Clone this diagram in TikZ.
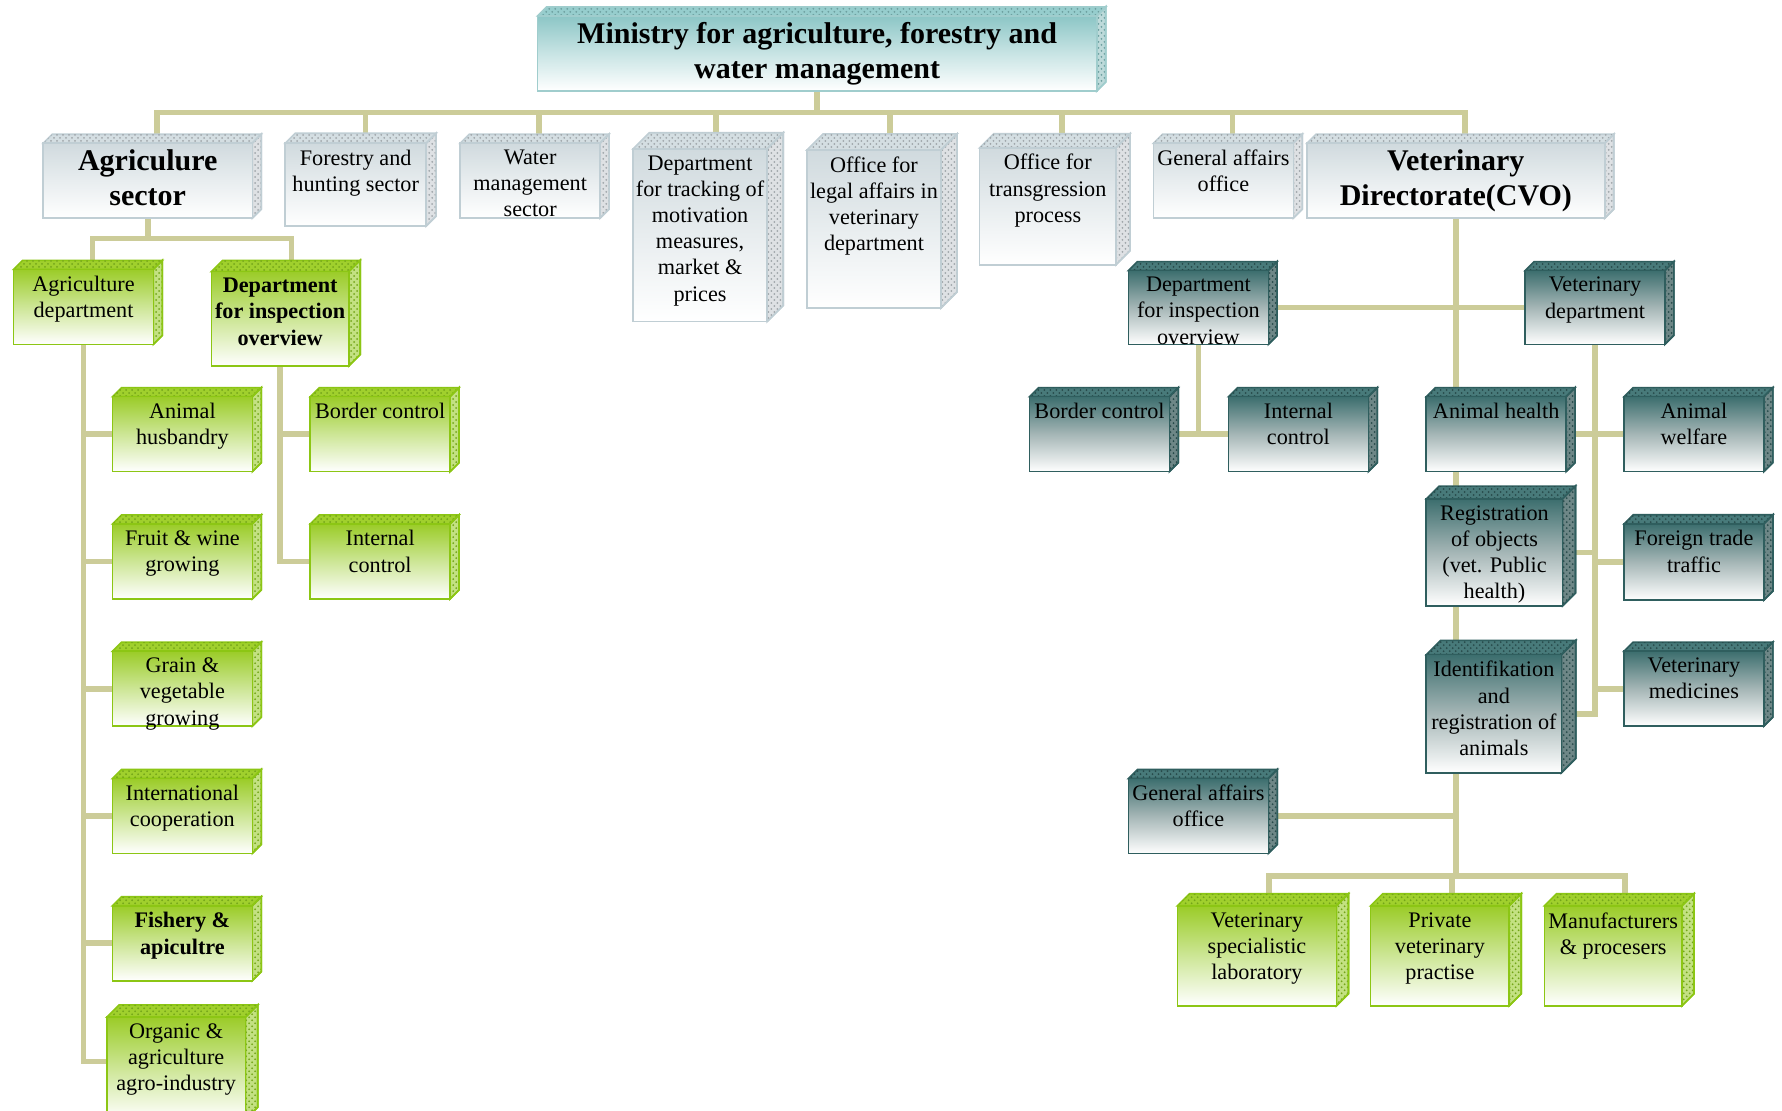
\documentclass[tikz,border=0pt]{standalone}
\usepackage{fontspec}
\setmainfont{Liberation Serif}
\usetikzlibrary{fit,backgrounds,patterns}
\definecolor{conncol}{RGB}{204,204,153}
% green
\definecolor{gtp}{RGB}{155,204,40}
\definecolor{gmd}{RGB}{205,230,150}
\definecolor{gln}{RGB}{140,198,20}
\definecolor{gtf}{RGB}{160,208,45}
\definecolor{gsd}{RGB}{195,225,130}
\definecolor{gpat}{RGB}{115,165,25}
% teal
\definecolor{ttp}{RGB}{60,110,110}
\definecolor{tmd}{RGB}{165,182,182}
\definecolor{tln}{RGB}{47,94,94}
\definecolor{ttf}{RGB}{72,122,122}
\definecolor{tsd}{RGB}{110,135,135}
\definecolor{tpat}{RGB}{40,75,75}
% grey
\definecolor{stp}{RGB}{208,218,222}
\definecolor{smd}{RGB}{232,237,239}
\definecolor{sln}{RGB}{192,206,212}
\definecolor{stf}{RGB}{212,222,226}
\definecolor{ssd}{RGB}{222,225,228}
\definecolor{spat}{RGB}{160,166,170}
% ministry
\definecolor{mtp}{RGB}{140,198,198}
\definecolor{mmd}{RGB}{200,228,228}
\definecolor{mln}{RGB}{160,205,205}
\definecolor{mtf}{RGB}{150,205,205}
\definecolor{msd}{RGB}{190,218,218}
\definecolor{mpat}{RGB}{110,160,160}
\newcommand\fnorm{\fontsize{11.1}{13.1}\selectfont}
\newcommand\fbold{\fontsize{11.1}{13.1}\selectfont\bfseries}
\newcommand\fbig{\fontsize{15}{17.6}\selectfont\bfseries}
\tikzset{
  conn/.style={draw=conncol, line width=2.8pt, line join=miter},
  gface/.style={fill=gtf, draw=gln, line width=0.8pt},
  gside/.style={fill=gsd, draw=gln, line width=0.8pt},
  gfront/.style={draw=gln, line width=0.8pt, top color=gtp, bottom color=white, middle color=gmd},
  tface/.style={fill=ttf, draw=tln, line width=0.8pt},
  tside/.style={fill=tsd, draw=tln, line width=0.8pt},
  tfront/.style={draw=tln, line width=0.8pt, top color=ttp, bottom color=white, middle color=tmd},
  sface/.style={fill=stf, draw=sln, line width=0.8pt},
  sside/.style={fill=ssd, draw=sln, line width=0.8pt},
  sfront/.style={draw=sln, line width=0.8pt, top color=stp, bottom color=white, middle color=smd},
  mface/.style={fill=mtf, draw=mln, line width=0.8pt},
  mside/.style={fill=msd, draw=mln, line width=0.8pt},
  mfront/.style={draw=mln, line width=0.8pt, top color=mtp, bottom color=white, middle color=mmd},
  boxtext/.style={anchor=north, align=center, inner sep=0pt, text=black},
}
% #1 name, #2 colour prefix, #3 x1, #4 y1, #5 x2, #6 y2, #7 font, #8 text
\newcommand\obox[8]{%
  \pgfmathsetmacro\obd{0.12*min(#5-#3,#6-#4)}%
  \path[#2face] (#3,#4) -- ++(\obd,-\obd) -- (#5+\obd,#4-\obd) -- (#5,#4) -- cycle;
  \fill[pattern=crosshatch dots, pattern color=#2pat] (#3,#4) -- ++(\obd,-\obd) -- (#5+\obd,#4-\obd) -- (#5,#4) -- cycle;
  \path[#2side] (#5,#4) -- ++(\obd,-\obd) -- (#5+\obd,#6-\obd) -- (#5,#6) -- cycle;
  \fill[pattern=crosshatch dots, pattern color=#2pat] (#5,#4) -- ++(\obd,-\obd) -- (#5+\obd,#6-\obd) -- (#5,#6) -- cycle;
  \draw[draw=#2ln, line width=0.8pt] (#5,#4) -- ++(\obd,-\obd) -- (#5+\obd,#6-\obd) -- (#5,#6);
  \node[fit={(#3,#4) (#5,#6)}, inner sep=0pt, #2front] (#1) {};
  \node[boxtext, font=#7] (#1-t) at ([yshift=-3.5pt]#1.north) {#8};
  \coordinate (#1-top) at ({(#3+#5)/2+\obd},{#4-\obd});
}
\begin{document}
\begin{tikzpicture}[x=0.568pt, y=-0.568pt]
\useasboundingbox (0,0) rectangle (1568,977);

% ministry
\obox{min}{m}{473}{14}{965}{80}{\fbig}{Ministry for agriculture, forestry and\\water management}

% top row
\obox{asec}{s}{38}{126}{222}{192}{\fbig}{Agriculure\\sector}
\obox{fhs}{s}{251}{126}{375}{199}{\fnorm}{Forestry and\\hunting sector}
\obox{wms}{s}{405}{126}{528}{192}{\fnorm}{Water\\management\\sector}
\obox{dtm}{s}{557}{131}{675}{283}{\fnorm}{Department\\for tracking of\\motivation\\measures,\\market \&\\prices}
\obox{ola}{s}{710}{132}{828}{271}{\fnorm}{Office for\\legal affairs in\\veterinary\\department}
\obox{otp}{s}{862}{130}{982}{233}{\fnorm}{Office for\\transgression\\process}
\obox{gao}{s}{1015}{126}{1138}{192}{\fnorm}{General affairs\\office}
\obox{vet}{s}{1150}{126}{1412}{192}{\fbig}{Veterinary\\Directorate(CVO)}

% left branch
\obox{agd}{g}{12}{237}{135}{303}{\fnorm}{Agriculture\\department}
\obox{dio}{g}{186}{239}{307}{322}{\fbold}{Department\\for inspection\\overview}
\obox{ah}{g}{99}{349}{222}{415}{\fnorm}{Animal\\husbandry}
\obox{fwg}{g}{99}{461}{222}{527}{\fnorm}{Fruit \& wine\\growing}
\obox{gvg}{g}{99}{573}{222}{639}{\fnorm}{Grain \&\\vegetable\\growing}
\obox{ic}{g}{99}{685}{222}{751}{\fnorm}{International\\cooperation}
\obox{fa}{g}{99}{797}{222}{863}{\fbold}{Fishery \&\\apicultre}
\obox{org}{g}{94}{895}{216}{985}{\fnorm}{Organic \&\\agriculture\\agro-industry}
\obox{bc1}{g}{273}{349}{396}{415}{\fnorm}{Border control}
\obox{ic1}{g}{273}{461}{396}{527}{\fnorm}{Internal\\control}

% right branch
\obox{dio2}{t}{993}{238}{1116}{303}{\fnorm}{Department\\for inspection\\overview}
\obox{vdep}{t}{1342}{238}{1465}{303}{\fnorm}{Veterinary\\department}
\obox{bc2}{t}{906}{349}{1029}{415}{\fnorm}{Border control}
\obox{ic2}{t}{1081}{349}{1204}{415}{\fnorm}{Internal\\control}
\obox{ah2}{t}{1255}{349}{1378}{415}{\fnorm}{Animal health}
\obox{aw}{t}{1429}{349}{1552}{415}{\fnorm}{Animal\\welfare}
\obox{reg}{t}{1255}{439}{1375}{533}{\fnorm}{Registration\\of objects\\(vet. Public\\health)}
\obox{ftt}{t}{1429}{461}{1552}{528}{\fnorm}{Foreign trade\\traffic}
\obox{idr}{t}{1255}{576}{1374}{680}{\fnorm}{Identifikation\\and\\registration of\\animals}
\obox{vm}{t}{1429}{573}{1552}{639}{\fnorm}{Veterinary\\medicines}
\obox{gao2}{t}{993}{685}{1116}{751}{\fnorm}{General affairs\\office}
\obox{vsl}{g}{1036}{797}{1176}{885}{\fnorm}{Veterinary\\specialistic\\laboratory}
\obox{pvp}{g}{1206}{797}{1328}{885}{\fnorm}{Private\\veterinary\\practise}
\obox{mp}{g}{1359}{797}{1480}{885}{\fnorm}{Manufacturers\\\& procesers}

\begin{scope}[on background layer]
  \fill[white] (0,0) rectangle (1568,977);
  \coordinate (j0) at (719,99);
  \draw[conn] (min) -- (j0);
  \foreach \n in {asec,fhs,wms,dtm,ola,otp,gao,vet} \draw[conn] (\n-top) |- (j0);
  \coordinate (j1) at (130,210);
  \draw[conn] (asec) -- (j1);
  \draw[conn] (agd-top) |- (j1);
  \draw[conn] (dio-top) |- (j1);
  \foreach \n in {ah,fwg,gvg,ic,fa} \draw[conn] (agd) |- (\n);
  \draw[conn] (agd) |- ([yshift=3.5pt]org.west);
  \draw[conn] (dio) |- (bc1);
  \draw[conn] (dio) |- (ic1);
  \coordinate (j5) at (1281,771);
  \draw[conn] (vet) -- (j5);
  \draw[conn] (dio2) -- (vdep);
  \draw[conn] (dio2) |- (bc2);
  \draw[conn] (dio2) |- (ic2);
  \draw[conn] (ah2) -- (aw);
  \draw[conn] (vdep) |- (ftt);
  \draw[conn] (vdep) |- (vm);
  \draw[conn] (reg) -| (vdep);
  \draw[conn] (idr) -| (vdep);
  \draw[conn] (gao2) -| (vet);
  \foreach \n in {vsl,pvp,mp} \draw[conn] (\n-top) |- (j5);
\end{scope}
\end{tikzpicture}
\end{document}
